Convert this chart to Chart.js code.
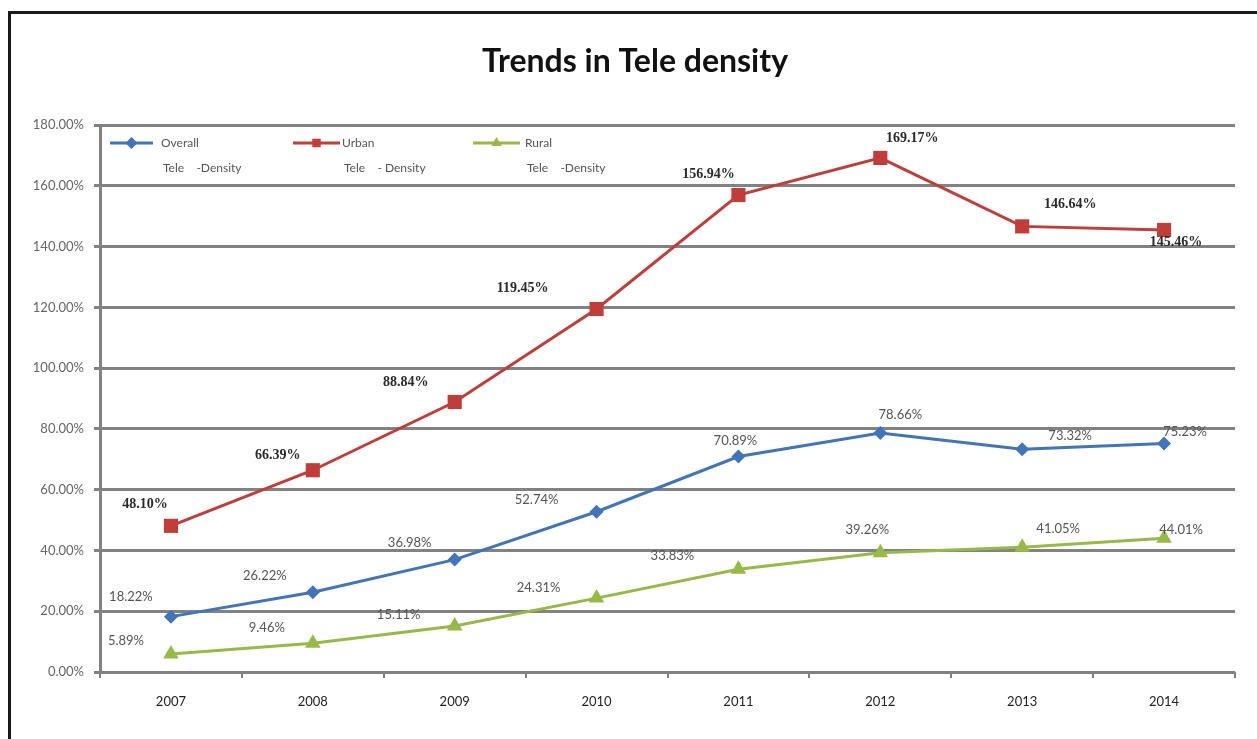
<!DOCTYPE html>
<html>
<head>
<meta charset="utf-8">
<script src="https://cdn.jsdelivr.net/npm/chart.js@4/dist/chart.umd.min.js"></script>
<style>
  html, body { margin: 0; padding: 0; background: #fff; }
  #wrap { width: 1257px; height: 739px; position: relative; }
</style>
</head>
<body>
<div id="wrap"><canvas id="c" width="1257" height="739"></canvas></div>
<script>
// ---- data ----
const years = ['2007', '2008', '2009', '2010', '2011', '2012', '2013', '2014'];
const overallDensity = [18.22, 26.22, 36.98, 52.74, 70.89, 78.66, 73.32, 75.23];
const urbanDensity = [48.10, 66.39, 88.84, 119.45, 156.94, 169.17, 146.64, 145.46];
const ruralDensity = [5.89, 9.46, 15.11, 24.31, 33.83, 39.26, 41.05, 44.01];
const seriesNames = ['Overall', 'Urban', 'Rural'];
const chartTitle = 'Trends in Tele density';

// ---- label placement (style, px offsets from point) ----
const labelOffsets = [
  [[-40,-20],[-48,-17],[-45,-17],[-60,-12],[-3,-16],[20,-18],[48,-13],[21,-12]],
  [[-26,-21],[-35,-15],[-49,-20],[-74,-21],[-30,-21],[32,-20],[48,-22],[12,12]],
  [[-45,-13],[-46,-15],[-56,-11],[-58,-10],[-66,-13],[-13,-23],[36,-18],[17,-8]]
];
const legendLayout = [
  {x1: 110, x2: 153, tx: 161, sub: 'Tele    -Density'},
  {x1: 293, x2: 340, tx: 342, sub: 'Tele    - Density'},
  {x1: 473, x2: 520, tx: 525, sub: 'Tele    -Density'}
];

const colors = ['#4274BA', '#BF3E3A', '#97B948'];
const markers = ['rectRot', 'rect', 'triangle'];
const radii = [7, 10, 9];

const decorPlugin = {
  id: 'decor',
  beforeDraw(chart) {
    const ctx = chart.ctx;
    ctx.save();
    ctx.fillStyle = '#fff';
    ctx.fillRect(0, 0, chart.width, chart.height);
    // frame
    ctx.strokeStyle = '#1a1a1a';
    ctx.lineWidth = 3;
    ctx.beginPath();
    ctx.moveTo(9.5, 739);
    ctx.lineTo(9.5, 12.5);
    ctx.lineTo(1257, 12.5);
    ctx.stroke();
    // title
    ctx.fillStyle = '#111';
    ctx.font = 'bold 32px Lato, "Open Sans", sans-serif';
    ctx.textAlign = 'center';
    ctx.textBaseline = 'middle';
    ctx.fillText(chartTitle, 635, 62);
    ctx.restore();
  },
  afterDatasetsDraw(chart) {
    const ctx = chart.ctx;
    ctx.save();
    ctx.textAlign = 'center';
    ctx.textBaseline = 'middle';
    chart.data.datasets.forEach((ds, i) => {
      const meta = chart.getDatasetMeta(i);
      if (i === 1) {
        ctx.font = 'bold 14px "Liberation Serif", serif';
        ctx.fillStyle = '#2a2a2a';
      } else {
        ctx.font = '13px Lato, sans-serif';
        ctx.fillStyle = '#555';
      }
      meta.data.forEach((pt, j) => {
        const off = labelOffsets[i][j];
        ctx.fillText(ds.data[j].toFixed(2) + '%', pt.x + off[0], pt.y + off[1]);
      });
    });
    // legend
    const top = chart.chartArea.top;
    chart.data.datasets.forEach((ds, i) => {
      const L = legendLayout[i];
      const y = top + 18;
      ctx.strokeStyle = colors[i];
      ctx.lineWidth = 3;
      ctx.beginPath();
      ctx.moveTo(L.x1, y);
      ctx.lineTo(L.x2, y);
      ctx.stroke();
      ctx.fillStyle = colors[i];
      Chart.helpers.drawPoint(ctx, {pointStyle: markers[i], radius: 6, borderWidth: 0}, (L.x1 + L.x2) / 2, y);
      ctx.fillStyle = '#555';
      ctx.font = '12px Lato, sans-serif';
      ctx.textAlign = 'left';
      ctx.fillText(seriesNames[i], L.tx, y);
      ctx.fillText(L.sub, L.tx + 2, y + 25);
    });
    ctx.restore();
  }
};

function makeDataset(label, data, i) {
  return {
    label: label,
    data: data,
    borderColor: colors[i],
    backgroundColor: colors[i],
    borderWidth: 3,
    pointStyle: markers[i],
    pointRadius: radii[i],
    pointHoverRadius: radii[i],
    pointBorderWidth: 0,
    tension: 0,
    clip: false
  };
}

new Chart(document.getElementById('c'), {
  type: 'line',
  data: {
    labels: years,
    datasets: [
      makeDataset(seriesNames[0] + ' Tele-Density', overallDensity, 0),
      makeDataset(seriesNames[1] + ' Tele-Density', urbanDensity, 1),
      makeDataset(seriesNames[2] + ' Tele-Density', ruralDensity, 2)
    ]
  },
  options: {
    responsive: false,
    animation: false,
    devicePixelRatio: 1,
    layout: { padding: { top: 125, right: 22, bottom: 0, left: 0 } },
    plugins: {
      legend: { display: false },
      title: { display: false },
      tooltip: { enabled: false }
    },
    scales: {
      x: {
        offset: true,
        grid: {
          offset: true,
          drawOnChartArea: false,
          drawTicks: true,
          tickLength: 6,
          color: '#7f7f7f',
          lineWidth: 2
        },
        border: { display: false },
        ticks: {
          color: '#222',
          font: { family: 'Lato, sans-serif', size: 13 },
          padding: 16,
          maxRotation: 0
        },
        afterFit(scale) { scale.height = 67; }
      },
      y: {
        min: 0,
        max: 180,
        ticks: {
          stepSize: 20,
          color: '#666',
          font: { family: 'Lato, sans-serif', size: 13 },
          padding: 10,
          callback: v => v.toFixed(2) + '%'
        },
        grid: {
          color: '#828282',
          lineWidth: 3,
          tickLength: 6
        },
        border: { display: true, color: '#828282', width: 3 },
        afterFit(scale) { scale.width = 100; }
      }
    }
  },
  plugins: [decorPlugin]
});
</script>
</body>
</html>
